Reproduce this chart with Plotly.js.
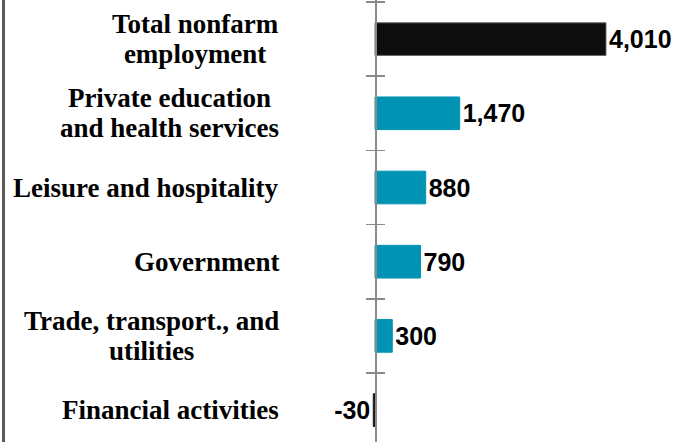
<!DOCTYPE html>
<html>
<head>
<meta charset="utf-8">
<script src="https://cdn.plot.ly/plotly-3.0.1.min.js"></script>
<style>html,body{margin:0;padding:0;background:#fff;overflow:hidden}#chart{width:683px;height:442px}</style>
</head>
<body>
<div id="chart"></div>
<script>
// Data
const categories = [
  "Total nonfarm<br>employment",
  "Private education<br>and health services",
  "Leisure and hospitality",
  "Government",
  "Trade, transport., and<br>utilities",
  "Financial activities"
];
const values = [4010, 1470, 880, 790, 300, -30];
const valueLabels = ["4,010", "1,470", "880", "790", "300", "-30"];
const barColors = ["#0d0d0d", "#0093b4", "#0093b4", "#0093b4", "#0093b4", "#1a1a1a"];

const W = 683;
const zeroX = 375;            // pixel position of zero line
const pxPerUnit = 231 / 4010; // bar scale
const xRange = [-zeroX / pxPerUnit, (W - zeroX) / pxPerUnit];
const yRange = [5.43, -0.527];
const axisGrey = "#8a8a8a";

const traces = [
  {
    type: "bar", orientation: "h",
    x: values, y: categories,
    xaxis: "x", yaxis: "y",
    marker: { color: barColors, line: { color: ["#666", "#0093b4", "#0093b4", "#0093b4", "#0093b4", "#1a1a1a"], width: 1 } },
    text: valueLabels, textposition: "outside", constraintext: "none", cliponaxis: false,
    textfont: { family: "Liberation Sans, Arial, sans-serif", size: 25, color: "#000", weight: "bold" },
    hoverinfo: "skip"
  },
  {
    type: "scatter", mode: "markers", x: values, y: categories,
    xaxis: "x", yaxis: "y2", marker: { opacity: 0 }, hoverinfo: "skip", showlegend: false
  },
  {
    type: "scatter", mode: "markers", x: values, y: categories,
    xaxis: "x", yaxis: "y3", marker: { opacity: 0 }, hoverinfo: "skip", showlegend: false
  }
];

// category labels as annotations with tighter line spacing
const labelSize = 27;
const annotations = categories.map(c => ({
  xref: "paper", yref: "y", x: 281 / W, y: c,
  xanchor: "right", yanchor: "middle", align: "center", showarrow: false,
  text: c.split("<br>").map(s => `<span style="font-size:${labelSize}px">${s}</span>`).join("<br>"),
  font: { family: "Liberation Serif, Times New Roman, serif", size: 23, color: "#000", weight: "bold" }
}));

const layout = {
  width: 683, height: 442,
  margin: { l: 0, r: 0, t: 0, b: 0, pad: 0 },
  paper_bgcolor: "#fff", plot_bgcolor: "rgba(0,0,0,0)",
  showlegend: false,
  barmode: "group", bargap: 0.56,
  xaxis: { range: xRange, visible: false, domain: [0, 1], fixedrange: true },
  yaxis: {
    type: "category", range: yRange, anchor: "free", position: zeroX / W,
    showline: true, linecolor: axisGrey, linewidth: 1.5,
    ticks: "outside", tickson: "boundaries", ticklen: 9, tickcolor: axisGrey, tickwidth: 1.5,
    showticklabels: false, showgrid: false, zeroline: false, fixedrange: true
  },
  yaxis2: {
    type: "category", overlaying: "y", matches: "y", side: "right", anchor: "free", position: zeroX / W,
    showline: false, ticks: "outside", tickson: "boundaries", ticklen: 9, tickcolor: axisGrey, tickwidth: 1.5,
    showticklabels: false, showgrid: false, zeroline: false
  },
  yaxis3: {
    type: "category", overlaying: "y", matches: "y", side: "left", anchor: "free", position: 3 / W,
    showline: true, linecolor: "#595959", linewidth: 2.5, ticks: "",
    showticklabels: false, showgrid: false, zeroline: false
  },
  annotations: annotations
};

Plotly.newPlot("chart", traces, layout, { displayModeBar: false, staticPlot: true });
</script>
</body>
</html>
